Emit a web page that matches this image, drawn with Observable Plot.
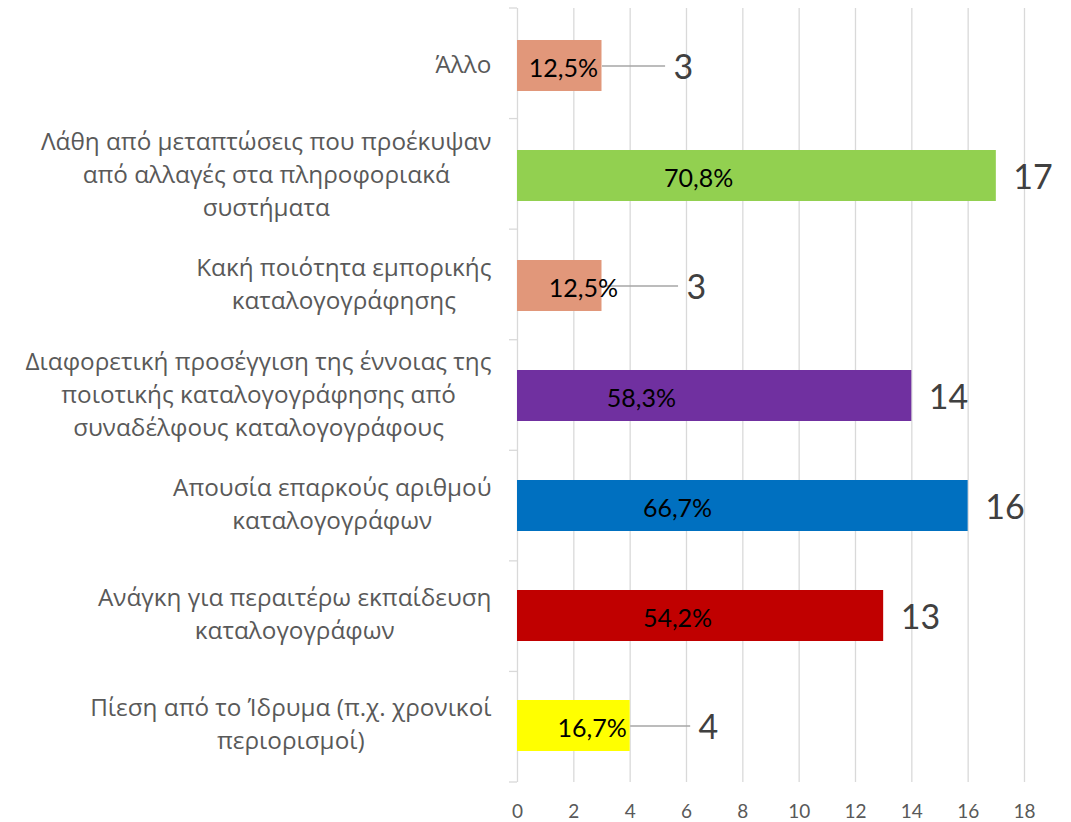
<!DOCTYPE html>
<html>
<head>
<meta charset="utf-8">
<script src="https://cdn.jsdelivr.net/npm/d3@7"></script>
<script src="https://cdn.jsdelivr.net/npm/@observablehq/plot@0.6"></script>
<style>
  html, body { margin: 0; padding: 0; background: #fff; }
  #chart svg { display: block; }
</style>
</head>
<body>
<div id="chart"></div>
<script>
// ---- data ----
const categories = [
  "Άλλο",
  "Λάθη από μεταπτώσεις που προέκυψαν από αλλαγές στα πληροφοριακά συστήματα",
  "Κακή ποιότητα εμπορικής καταλογογράφησης",
  "Διαφορετική προσέγγιση της έννοιας της ποιοτικής καταλογογράφησης από συναδέλφους καταλογογράφους",
  "Απουσία επαρκούς αριθμού καταλογογράφων",
  "Ανάγκη για περαιτέρω εκπαίδευση καταλογογράφων",
  "Πίεση από το Ίδρυμα (π.χ. χρονικοί περιορισμοί)"
];
const categoryTickLabels = [
  "Άλλο",
  "Λάθη από μεταπτώσεις που προέκυψαν\nαπό αλλαγές στα πληροφοριακά\nσυστήματα",
  "Κακή ποιότητα εμπορικής\nκαταλογογράφησης",
  "Διαφορετική προσέγγιση της έννοιας της\nποιοτικής καταλογογράφησης από\nσυναδέλφους καταλογογράφους",
  "Απουσία επαρκούς αριθμού\nκαταλογογράφων",
  "Ανάγκη για περαιτέρω εκπαίδευση\nκαταλογογράφων",
  "Πίεση από το Ίδρυμα (π.χ. χρονικοί\nπεριορισμοί)"
];
const counts = [3, 17, 3, 14, 16, 13, 4];
const percentLabels = ["12,5%", "70,8%", "12,5%", "58,3%", "66,7%", "54,2%", "16,7%"];
const barColors = ["#E1977A", "#92D050", "#E1977A", "#7030A0", "#0070C0", "#C00000", "#FFFF00"];
const xTicks = [0, 2, 4, 6, 8, 10, 12, 14, 16, 18];

// label placement (in x-axis data units), as dragged in the original
const percentLabelX = [1.63, 6.43, 2.34, 4.40, 5.68, 5.68, 2.65];
const countLabelX = [5.54, null, 6.0, null, null, null, 6.43]; // labels moved out with a leader line

// ---- chart ----
const idx = categories.map((_, i) => i);
const plainIdx = idx.filter(i => countLabelX[i] == null);
const leaderIdx = idx.filter(i => countLabelX[i] != null);
const FONT = "Lato, 'Open Sans', 'Noto Sans', sans-serif";
const LABEL_FONT = "'Open Sans', 'Noto Sans', sans-serif";

const plot = Plot.plot({
  width: 1071,
  height: 822,
  marginLeft: 517,
  marginRight: 47,
  marginTop: 8,
  marginBottom: 40,
  style: { fontFamily: FONT, fontSize: "19px", color: "#595959", background: "#fff" },
  x: { domain: [0, 18], ticks: xTicks, tickSize: 0, tickPadding: 22, label: null, tickFormat: d => String(d) },
  y: { domain: categories, axis: null, paddingInner: 0.54, paddingOuter: 0.27 },
  color: { type: "identity" },
  marks: [
    Plot.ruleX(xTicks, { stroke: "#d9d9d9", strokeWidth: 1.3 }),
    Plot.barX(idx, {
      x: i => counts[i],
      y: i => categories[i],
      fill: i => barColors[i]
    }),
    Plot.link(leaderIdx, {
      x1: i => counts[i],
      x2: i => countLabelX[i] - 0.3,
      y1: i => categories[i],
      y2: i => categories[i],
      stroke: "#a6a6a6",
      strokeWidth: 1.4
    }),
    Plot.text(idx, {
      x: i => percentLabelX[i],
      y: i => categories[i],
      text: i => percentLabels[i],
      fill: "#000",
      fontSize: 25,
      textAnchor: "middle",
      dy: 3
    }),
    Plot.text(plainIdx, {
      x: i => counts[i],
      y: i => categories[i],
      text: i => String(counts[i]),
      fill: "#404040",
      fontSize: 34,
      textAnchor: "start",
      dx: 17,
      dy: 2
    }),
    Plot.text(leaderIdx, {
      x: i => countLabelX[i],
      y: i => categories[i],
      text: i => String(counts[i]),
      fill: "#404040",
      fontSize: 34,
      textAnchor: "start",
      dy: 2
    }),
    Plot.text(idx, {
      x: () => 0,
      y: i => categories[i],
      text: i => categoryTickLabels[i],
      fill: "#595959",
      fontSize: 24.3,
      fontFamily: LABEL_FONT,
      lineHeight: 1.36,
      textAnchor: "end",
      dx: -26,
      dy: -4
    })
  ]
});

document.getElementById("chart").append(plot);

// center each line of a multi-line category label within its right-aligned block
const labelSet = new Set(categoryTickLabels.map(s => s.replace(/\n/g, "")));
d3.select(plot).selectAll("text").each(function () {
  const spans = Array.from(this.querySelectorAll("tspan"));
  if (spans.length < 2 || !labelSet.has(this.textContent)) return;
  const w = d3.max(spans, s => s.getComputedTextLength());
  this.setAttribute("text-anchor", "middle");
  spans.forEach(s => s.setAttribute("x", -w / 2));
});

// category separator ticks at band boundaries, left of the axis
const ys = plot.scale("y");
const xs = plot.scale("x");
const [r0, r1] = ys.range;
const n = categories.length;
const x0 = xs.apply(0);
const bounds = d3.range(n + 1).map(k => r0 + k * (r1 - r0) / n);
d3.select(plot).append("g")
  .selectAll("line").data(bounds).join("line")
  .attr("x1", x0 - 8).attr("x2", x0)
  .attr("y1", d => d).attr("y2", d => d)
  .attr("stroke", "#d9d9d9").attr("stroke-width", 1.3);
</script>
</body>
</html>
